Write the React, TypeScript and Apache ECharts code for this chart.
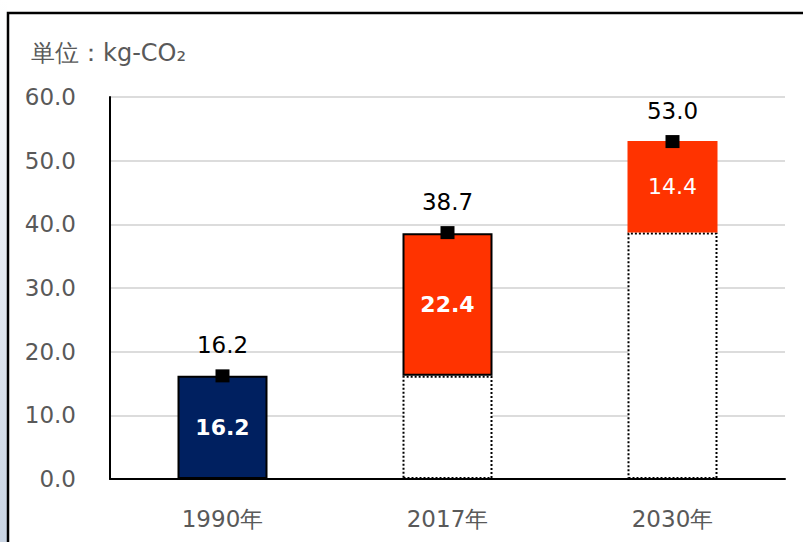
import React, { useEffect, useRef } from "react";
import * as echarts from "echarts";

const categories = ["1990年", "2017年", "2030年"];
const baseValues = [0, 16.2, 38.7];
const increments = [16.2, 22.4, 14.4];
const totals = [16.2, 38.7, 53.0];
const yTicks = { min: 0, max: 60, interval: 10 };

const FONT = "DejaVu Sans";
const GRAY = "#595959";

export default function App() {
  const ref = useRef<HTMLDivElement>(null);
  useEffect(() => {
    if (!ref.current) return;
    const chart = echarts.init(ref.current, undefined, { renderer: "svg" });
    const incColors = ["#002060", "#FF3300", "#FF3300"];
    const incBorders = [2, 2, 0];
    const incBold = ["bold", "bold", "normal"];
    chart.setOption({
      animation: false,
      backgroundColor: "#ffffff",
      textStyle: { fontFamily: FONT },
      title: {
        text: "単位：kg-CO₂",
        left: 26,
        top: 36,
        textStyle: { fontFamily: FONT, fontSize: 24, fontWeight: "normal", color: GRAY },
      },
      graphic: [
        {
          type: "rect",
          left: 0,
          top: 0,
          shape: { width: 7, height: 542 },
          style: {
            fill: new echarts.graphic.LinearGradient(0, 0, 0, 1, [
              { offset: 0, color: "#ffffff" },
              { offset: 1, color: "#c9d4e3" },
            ]),
          },
          z: 0,
        },
        {
          type: "rect",
          shape: { x: 8, y: 13, width: 810, height: 560 },
          style: { fill: "none", stroke: "#000000", lineWidth: 2.5 },
          z: 0,
        },
      ],
      grid: { left: 110, right: 18, top: 97, bottom: 63 },
      xAxis: {
        type: "category",
        data: categories,
        axisLine: { lineStyle: { color: "#000000", width: 2 } },
        axisTick: { show: false },
        axisLabel: { color: GRAY, fontSize: 23, fontFamily: FONT, margin: 28 },
      },
      yAxis: {
        type: "value",
        min: yTicks.min,
        max: yTicks.max,
        interval: yTicks.interval,
        axisLine: { show: true, lineStyle: { color: "#000000", width: 2 } },
        axisTick: { show: false },
        splitLine: { lineStyle: { color: "#dcdcdc", width: 2 } },
        axisLabel: {
          color: GRAY,
          fontSize: 23,
          fontFamily: FONT,
          margin: 34,
          formatter: (v: number) => v.toFixed(1),
        },
      },
      series: [
        {
          type: "bar",
          stack: "s",
          barWidth: "40%",
          data: baseValues.map((v) => ({
            value: v,
            itemStyle:
              v === 0
                ? { color: "transparent", borderWidth: 0 }
                : { color: "#ffffff", borderColor: "#000000", borderWidth: 2, borderType: "dotted" },
          })),
          z: 2,
        },
        {
          type: "bar",
          stack: "s",
          barWidth: "40%",
          data: increments.map((v, i) => ({
            value: v,
            itemStyle: {
              color: incColors[i],
              borderColor: "#000000",
              borderWidth: incBorders[i],
            },
            label: {
              show: true,
              position: "inside",
              color: "#ffffff",
              fontSize: 22,
              fontFamily: FONT,
              fontWeight: incBold[i],
              formatter: (p: any) => Number(p.value).toFixed(1),
            },
          })),
          z: 3,
        },
        {
          type: "scatter",
          data: totals,
          symbol: "rect",
          symbolSize: [14, 13],
          itemStyle: { color: "#000000", opacity: 1 },
          label: {
            show: true,
            position: "top",
            distance: 13,
            color: "#000000",
            fontSize: 23,
            fontFamily: FONT,
            formatter: (p: any) => Number(p.value).toFixed(1),
          },
          z: 5,
        },
      ],
    });
    return () => chart.dispose();
  }, []);
  return (
    <div
      ref={ref}
      style={{ position: "absolute", left: 0, top: 0, width: 803, height: 542 }}
    />
  );
}
